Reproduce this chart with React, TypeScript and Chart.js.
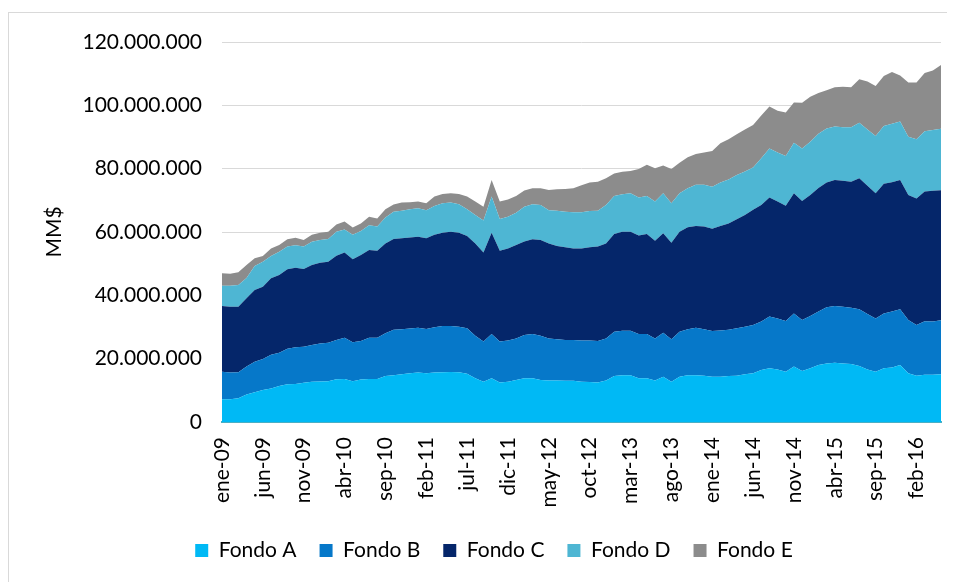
import React, { useEffect, useRef } from "react";
import { Chart, registerables } from "chart.js";

Chart.register(...registerables);

// Categories: monthly, ene-09 .. may-16
const monthNames = ["ene", "feb", "mar", "abr", "may", "jun", "jul", "ago", "sep", "oct", "nov", "dic"];
const startYear = 2009;
const monthCount = 89;
const categories: string[] = [];
for (let i = 0; i < monthCount; i++) {
  const y = startYear + Math.floor(i / 12);
  categories.push(`${monthNames[i % 12]}-${String(y % 100).padStart(2, "0")}`);
}

// Series values in millions (stacked areas)
const fondoA = [
  7.2, 7.2, 7.5, 8.7, 9.4, 10.1, 10.6, 11.4, 11.9, 12.0,
  12.4, 12.7, 12.8, 12.9, 13.5, 13.6, 12.9, 13.4, 13.6, 13.6,
  14.5, 14.8, 15.1, 15.4, 15.6, 15.4, 15.6, 15.7, 15.8, 15.7,
  15.2, 13.8, 12.7, 13.8, 12.5, 12.7, 13.3, 13.8, 13.8, 13.3,
  13.1, 13.1, 13.0, 13.0, 12.7, 12.6, 12.5, 13.1, 14.5, 14.8,
  14.8, 13.8, 13.8, 13.1, 14.3, 12.7, 14.3, 14.8, 14.8, 14.6,
  14.3, 14.3, 14.5, 14.6, 15.1, 15.4, 16.4, 17.0, 16.6, 15.9,
  17.5, 16.1, 17.0, 18.0, 18.5, 18.7, 18.5, 18.3, 17.7, 16.6,
  15.9, 17.0, 17.2, 18.0, 15.4, 14.6, 14.9, 14.9, 15.1,
];
const fondoB = [
  8.7, 8.4, 8.2, 8.8, 9.6, 9.8, 10.6, 10.5, 11.2, 11.6,
  11.4, 11.6, 12.0, 12.1, 12.4, 13.0, 12.3, 12.2, 13.0, 13.0,
  13.5, 14.3, 14.2, 14.1, 14.2, 14.0, 14.3, 14.6, 14.5, 14.4,
  14.4, 13.4, 12.7, 14.0, 12.9, 13.0, 13.1, 13.7, 14.0, 13.9,
  13.3, 13.0, 12.9, 12.9, 13.0, 13.1, 13.1, 13.3, 14.0, 14.0,
  14.0, 14.0, 14.0, 13.3, 13.9, 13.4, 14.2, 14.5, 15.0, 14.7,
  14.4, 14.6, 14.6, 15.0, 15.0, 15.2, 15.3, 16.3, 16.1, 16.0,
  16.8, 16.1, 16.5, 16.9, 17.7, 17.9, 17.9, 17.8, 17.9, 17.5,
  16.8, 17.3, 17.7, 17.6, 16.8, 16.0, 16.9, 16.8, 17.0,
];
const fondoC = [
  20.7, 20.8, 20.7, 21.6, 22.7, 22.8, 24.2, 24.5, 25.1, 25.1,
  24.5, 25.3, 25.5, 25.6, 26.6, 26.9, 26.2, 27.1, 27.7, 27.5,
  28.4, 28.7, 28.7, 28.8, 28.7, 28.6, 29.2, 29.5, 29.8, 29.7,
  29.1, 29.2, 28.1, 32.0, 28.7, 29.1, 29.5, 29.5, 29.9, 30.3,
  30.0, 29.5, 29.3, 28.9, 29.1, 29.5, 29.8, 30.0, 30.9, 31.3,
  31.3, 31.1, 31.6, 30.8, 31.4, 30.5, 31.6, 32.2, 32.1, 32.4,
  32.3, 33.0, 33.6, 34.4, 35.3, 36.4, 36.8, 37.6, 36.9, 36.4,
  37.9, 37.6, 38.2, 39.0, 39.4, 39.8, 39.8, 39.8, 41.4, 40.5,
  39.5, 40.9, 40.8, 40.8, 39.5, 40.0, 41.0, 41.3, 41.1,
];
const fondoD = [
  6.4, 6.6, 6.9, 6.4, 7.6, 7.9, 7.0, 7.4, 7.2, 7.1,
  7.1, 7.3, 7.2, 7.2, 7.6, 7.3, 7.7, 7.6, 7.8, 7.6,
  8.2, 8.6, 8.7, 8.9, 9.0, 8.9, 9.1, 9.3, 9.2, 9.0,
  8.5, 9.0, 10.1, 11.4, 10.0, 10.0, 10.2, 11.0, 11.1, 11.0,
  10.5, 11.1, 11.2, 11.4, 11.4, 11.4, 11.3, 12.1, 12.0, 11.8,
  12.1, 12.0, 12.0, 12.4, 12.6, 12.5, 12.1, 12.3, 13.0, 13.2,
  13.3, 13.7, 13.9, 14.0, 13.7, 13.4, 14.8, 15.5, 15.5, 15.7,
  16.0, 16.6, 16.8, 17.1, 17.1, 16.9, 16.9, 17.2, 17.5, 17.8,
  18.1, 18.3, 18.5, 18.5, 18.4, 18.7, 19.0, 19.2, 19.4,
];
const fondoE = [
  4.0, 3.8, 4.0, 4.1, 2.4, 1.8, 2.4, 2.1, 2.3, 2.4,
  2.1, 2.2, 2.3, 2.3, 2.3, 2.5, 2.3, 2.4, 2.7, 2.6,
  2.6, 2.3, 2.6, 2.2, 2.1, 2.2, 3.0, 2.9, 2.9, 3.2,
  4.0, 4.2, 4.4, 5.2, 5.5, 5.5, 5.3, 5.1, 5.0, 5.3,
  6.4, 6.8, 7.2, 7.6, 8.6, 9.0, 9.2, 8.5, 7.1, 7.1,
  7.1, 9.0, 9.8, 10.5, 8.8, 10.8, 9.7, 9.8, 9.7, 10.2,
  11.3, 12.4, 12.7, 12.9, 13.3, 13.4, 13.5, 13.2, 13.2, 13.7,
  12.7, 14.4, 14.2, 12.9, 12.1, 12.4, 12.8, 12.6, 13.7, 15.1,
  15.8, 15.8, 16.3, 14.5, 17.1, 17.9, 18.4, 18.8, 20.1,
];

const seriesNames = ["Fondo A", "Fondo B", "Fondo C", "Fondo D", "Fondo E"];
const seriesColors = ["#00B9F5", "#0678C9", "#05266A", "#4EB6D3", "#8C8C8C"];
const yTicks = [0, 20000000, 40000000, 60000000, 80000000, 100000000, 120000000];
const unit = 1000000;

const fmt = (v: number) => String(Math.round(v)).replace(/\B(?=(\d{3})+(?!\d))/g, ".");

export default function App() {
  const ref = useRef<HTMLCanvasElement | null>(null);
  useEffect(() => {
    if (!ref.current) return;
    const all = [fondoA, fondoB, fondoC, fondoD, fondoE];
    const chart = new Chart(ref.current, {
      type: "line",
      data: {
        labels: categories,
        datasets: all.map((arr, k) => ({
          label: seriesNames[k],
          data: arr.map((v) => v * unit),
          backgroundColor: seriesColors[k],
          borderColor: seriesColors[k],
          borderWidth: 0,
          pointRadius: 0,
          tension: 0,
          fill: k === 0 ? "origin" : "-1",
        })),
      },
      options: {
        animation: false,
        responsive: false,
        devicePixelRatio: 1,
        layout: { padding: { top: 29, right: 18, bottom: 17, left: 38 } },
        plugins: {
          tooltip: { enabled: false },
          legend: {
            position: "bottom",
            labels: {
              boxWidth: 13,
              boxHeight: 13,
              padding: 23,
              color: "#000",
              font: { family: "Lato", size: 21 },
            },
          },
        },
        scales: {
          x: {
            type: "category",
            offset: false,
            grid: { display: false, drawTicks: false },
            border: { display: true, color: "#4AAFC4", width: 2 },
            afterFit: (s: any) => { s.height = 95; s.paddingLeft = 0; s.paddingRight = 0; },
            ticks: {
              autoSkip: false,
              maxRotation: 90,
              minRotation: 90,
              padding: 15,
              color: "#000",
              font: { family: "Lato", size: 21 },
              callback: (_v: any, i: number) => (i % 5 === 0 ? categories[i] : ""),
            },
          },
          y: {
            stacked: true,
            min: 0,
            max: 120000000,
            afterFit: (s: any) => { s.width = 175; s.paddingTop = 0; s.paddingBottom = 0; },
            afterBuildTicks: (s: any) => { s.ticks = yTicks.map((v) => ({ value: v })); },
            grid: { color: "#D9D9D9", lineWidth: 1, drawTicks: false },
            border: { display: false },
            title: {
              display: true,
              text: "MM$",
              color: "#000",
              font: { family: "Lato", size: 21 },
              padding: { top: -5, bottom: 0 },
            },
            ticks: {
              padding: 20,
              color: "#000",
              font: { family: "Lato", size: 21 },
              callback: (v: any) => fmt(Number(v)),
            },
          },
        },
      },
    });
    return () => chart.destroy();
  }, []);
  return (
    <div style={{ width: 950, height: 575, border: "1px solid #D9D9D9", marginTop: 4, background: "#fff" }}>
      <canvas ref={ref} width={950} height={575} style={{ display: "block" }} />
    </div>
  );
}
